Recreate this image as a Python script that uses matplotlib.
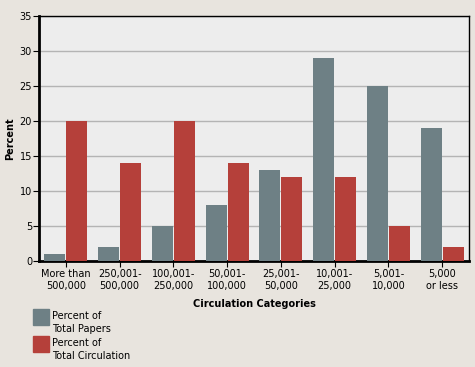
import numpy as np
import matplotlib.pyplot as plt
from matplotlib.patches import Rectangle

categories = ["More than\n500,000", "250,001-\n500,000", "100,001-\n250,000", "50,001-\n100,000",
              "25,001-\n50,000", "10,001-\n25,000", "5,001-\n10,000", "5,000\nor less"]
papers = [1, 2, 5, 8, 13, 29, 25, 19]
circulation = [20, 14, 20, 14, 12, 12, 5, 2]
legend_labels = ["Percent of\nTotal Papers", "Percent of\nTotal Circulation"]

grey = '#6e8085'
red = '#b5403a'
W, H = 475, 367

fig = plt.figure(figsize=(4.75, 3.67), dpi=100, facecolor='#e8e4de')
ax = fig.add_axes([39/W, 1-261/H, 430/W, 245/H])
ax.set_facecolor('#ededed')

x = np.arange(len(categories))
w = 0.39
ax.bar(x - w/2 - 0.01, papers, w, color=grey, zorder=3)
ax.bar(x + w/2 + 0.01, circulation, w, color=red, zorder=3)

ax.set_xlim(-0.5, 7.5)
ax.set_ylim(0, 35)
ax.set_yticks(range(0, 36, 5))
ax.yaxis.grid(True, color='#b4b4b4', lw=1, zorder=0)
ax.set_xticks(x)
ax.set_xticklabels(categories, fontsize=7, linespacing=1.3)
ax.tick_params(axis='y', labelsize=7, length=4, pad=1)
ax.tick_params(axis='x', length=4, pad=1.5)

ax.spines['left'].set_linewidth(2)
ax.spines['bottom'].set_linewidth(2)
ax.spines['top'].set_linewidth(1)
ax.spines['right'].set_linewidth(1)

ax.set_xlabel("Circulation Categories", fontsize=7, fontweight='bold', labelpad=6)
ax.set_ylabel("Percent", fontsize=7, fontweight='bold', labelpad=3)

# legend drawn by hand: swatch + two-line label whose first line is centred on it
for i, (lab, col) in enumerate(zip(legend_labels, [grey, red])):
    top = 309 + i * 27
    fig.add_artist(Rectangle((33/W, 1-(top+16)/H), 16/W, 16/H,
                             transform=fig.transFigure, color=col))
    fig.text(52/W, 1-(top+2)/H, lab, fontsize=7, va='top', ha='left', linespacing=1.4)

fig.savefig('out.png', dpi=100, facecolor=fig.get_facecolor())
